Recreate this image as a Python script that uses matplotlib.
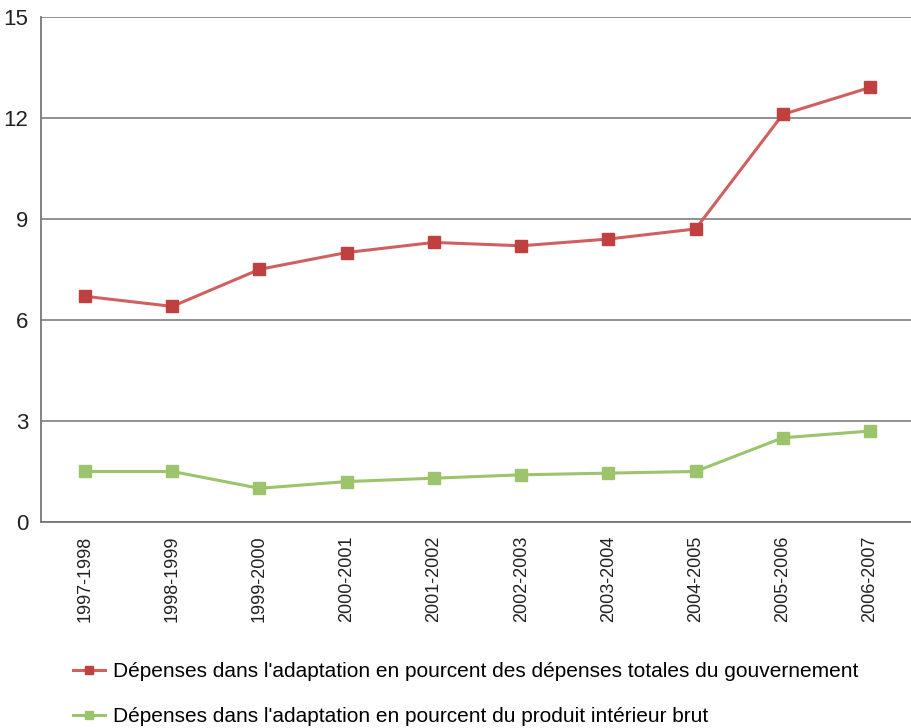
import matplotlib
matplotlib.use("Agg")
import matplotlib.pyplot as plt
from matplotlib.lines import Line2D

plt.rcParams['font.family'] = ['Liberation Sans', 'DejaVu Sans']

categories = ["1997-1998", "1998-1999", "1999-2000", "2000-2001", "2001-2002",
              "2002-2003", "2003-2004", "2004-2005", "2005-2006", "2006-2007"]
gov_share = [6.7, 6.4, 7.5, 8.0, 8.3, 8.2, 8.4, 8.7, 12.1, 12.9]
gdp_share = [1.5, 1.5, 1.0, 1.2, 1.3, 1.4, 1.45, 1.5, 2.5, 2.7]
yticks = [0, 3, 6, 9, 12, 15]
label_gov = "Dépenses dans l'adaptation en pourcent des dépenses totales du gouvernement"
label_gdp = "Dépenses dans l'adaptation en pourcent du produit intérieur brut"

fig = plt.figure(figsize=(9.11, 7.28), dpi=100)
ax = fig.add_axes([0.045, 0.283, 0.955, 0.694])

x = list(range(len(categories)))
red_line, red_mk = "#D0605F", "#C0403F"
green_line, green_mk = "#9BC46C", "#9BC46C"

ax.plot(x, gov_share, color=red_line, lw=2.2, marker='s', ms=8,
        mfc=red_mk, mec=red_mk, zorder=3)
ax.plot(x, gdp_share, color=green_line, lw=2.2, marker='s', ms=8,
        mfc=green_mk, mec=green_mk, zorder=3)

ax.set_xlim(-0.505, 9.47)
ax.set_ylim(0, 15)
ax.set_yticks(yticks)
ax.set_yticklabels([str(v) for v in yticks], fontsize=16)
ax.set_xticks(x)
ax.set_xticklabels(categories, rotation=90, fontsize=13)
ax.tick_params(axis='both', length=0, colors='#222222')
ax.tick_params(axis='y', pad=9)
ax.tick_params(axis='x', pad=10)
ax.yaxis.grid(True, color='#888888', lw=1.3)
ax.set_axisbelow(True)
for s in ['top', 'right']:
    ax.spines[s].set_visible(False)
for s in ['left', 'bottom']:
    ax.spines[s].set_color('#777777')
    ax.spines[s].set_linewidth(1.3)

handles = [Line2D([], [], color=red_line, lw=2.2, marker='s', ms=6, mfc=red_mk, mec=red_mk),
           Line2D([], [], color=green_line, lw=2.2, marker='s', ms=6, mfc=green_mk, mec=green_mk)]
fig.legend(handles, [label_gov, label_gdp], loc='upper left',
           bbox_to_anchor=(0.071, 0.102), frameon=False, fontsize=15,
           handlelength=1.55, handletextpad=0.35, labelspacing=1.25, borderaxespad=0)

fig.savefig("out.png", dpi=100)
